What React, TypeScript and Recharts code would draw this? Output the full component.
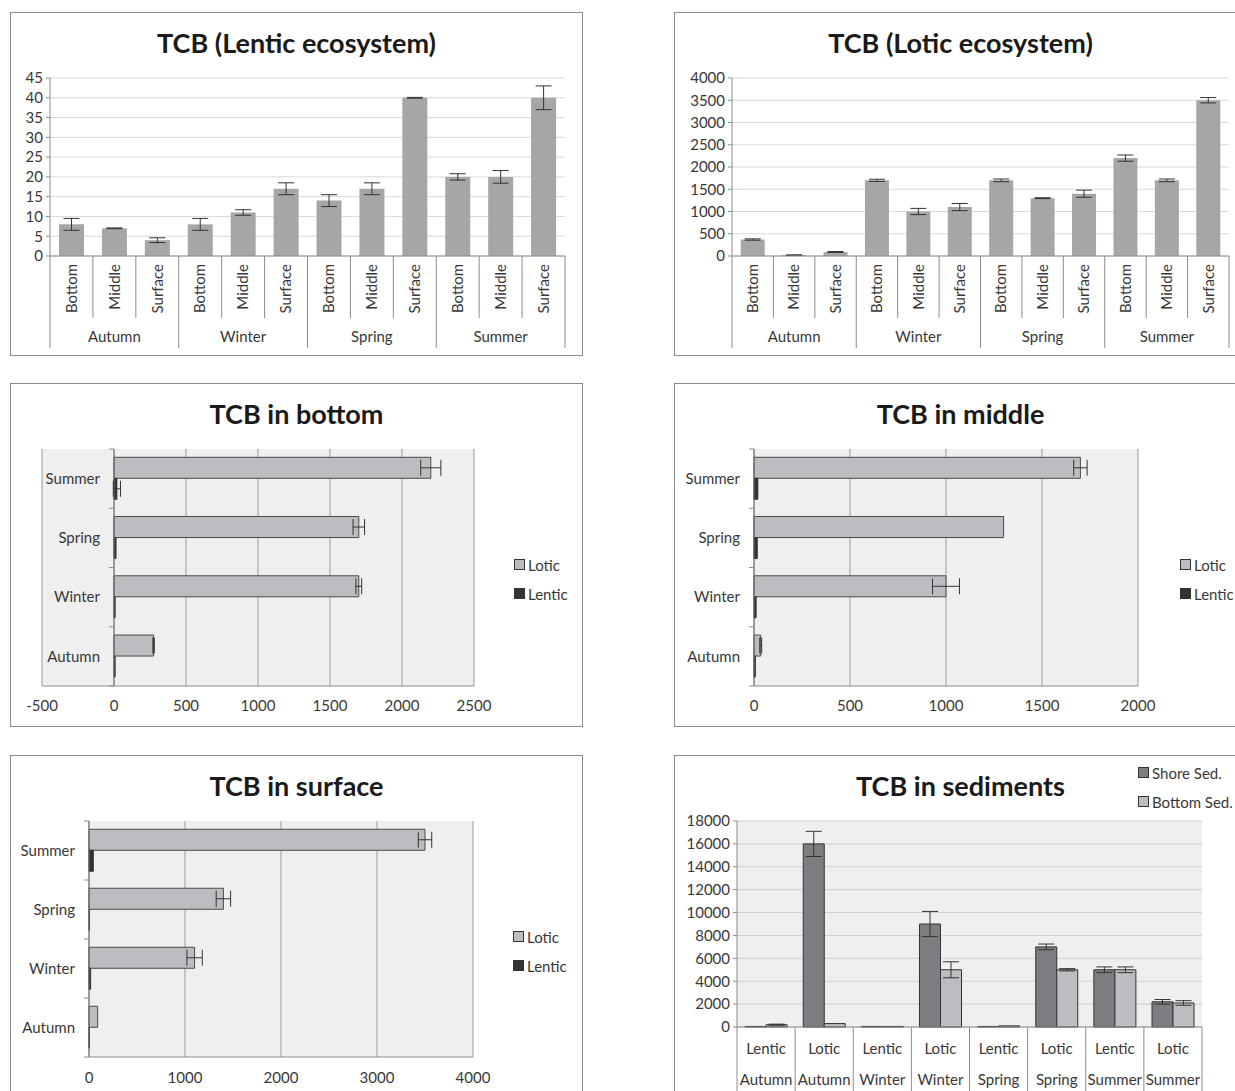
import React from "react";
import {
  BarChart,
  Bar,
  XAxis,
  YAxis,
  CartesianGrid,
  ErrorBar,
  ReferenceLine,
} from "recharts";

// seasons / depth layers used by the two top charts
const seasons = ["Autumn", "Winter", "Spring", "Summer"];
const layers = ["Bottom", "Middle", "Surface"];

const lenticValues = [8, 7, 4, 8, 11, 17, 14, 17, 40, 20, 20, 40];
const lenticErrors = [1.5, 0.1, 0.6, 1.5, 0.7, 1.5, 1.5, 1.5, 0.1, 0.8, 1.6, 3];
const lenticTicks = [0, 5, 10, 15, 20, 25, 30, 35, 40, 45];

const loticValues = [370, 20, 90, 1700, 1000, 1100, 1700, 1300, 1400, 2200, 1700, 3500];
const loticErrors = [15, 5, 10, 25, 70, 80, 30, 10, 80, 70, 30, 60];
const loticTicks = [0, 500, 1000, 1500, 2000, 2500, 3000, 3500, 4000];

// horizontal charts, top to bottom
const barSeasons = ["Summer", "Spring", "Winter", "Autumn"];

const bottomLotic = [2200, 1700, 1700, 275];
const bottomLoticErr = [70, 40, 20, 5];
const bottomLentic = [20, 14, 8, 8];
const bottomLenticErr = [25, 0, 0, 0];
const bottomTicks = [-500, 0, 500, 1000, 1500, 2000, 2500];

const middleLotic = [1700, 1300, 1000, 35];
const middleLoticErr = [35, 0, 70, 5];
const middleLentic = [20, 17, 11, 7];
const middleTicks = [0, 500, 1000, 1500, 2000];

const surfaceLotic = [3500, 1400, 1100, 90];
const surfaceLoticErr = [70, 75, 80, 0];
const surfaceLentic = [45, 5, 17, 4];
const surfaceTicks = [0, 1000, 2000, 3000, 4000];

// sediments
const sedSystems = ["Lentic", "Lotic", "Lentic", "Lotic", "Lentic", "Lotic", "Lentic", "Lotic"];
const sedSeasons = ["Autumn", "Autumn", "Winter", "Winter", "Spring", "Spring", "Summer", "Summer"];
const shoreSed = [50, 16000, 50, 9000, 50, 7000, 5000, 2200];
const shoreSedErr = [0, 1100, 0, 1100, 0, 250, 250, 200];
const bottomSed = [200, 300, 50, 5000, 100, 5000, 5000, 2100];
const bottomSedErr = [50, 0, 0, 700, 0, 100, 250, 200];
const sedTicks = [0, 2000, 4000, 6000, 8000, 10000, 12000, 14000, 16000, 18000];

const textColor = "#383838";
const axisColor = "#8c8c8c";
const gridColor = "#d9d9d9";
const plainBar = "#a6a6a8";
const lightBar = "#bdbdc1";
const darkBar = "#333333";
const shoreColor = "#7e7e82";
const errColor = "#333333";
const fs = 15;

const W = 571;
const H = 342;

const layerData = (values: number[], errors: number[]) =>
  values.map((v, i) => ({
    layer: layers[i % 3],
    key: `${seasons[Math.floor(i / 3)]}-${layers[i % 3]}`,
    value: v,
    err: errors[i],
  }));

const hData = (lotic: number[], loticErr: number[], lentic: number[], lenticErr?: number[]) =>
  barSeasons.map((s, i) => ({
    season: s,
    lotic: lotic[i],
    loticErr: loticErr[i],
    lentic: lentic[i],
    lenticErr: lenticErr ? lenticErr[i] : 0,
  }));

const sedData = sedSystems.map((s, i) => ({
  key: `${s} ${sedSeasons[i]}`,
  shore: shoreSed[i],
  shoreErr: shoreSedErr[i],
  bottom: bottomSed[i],
  bottomErr: bottomSedErr[i],
}));

const Panel = ({ left, top, title, children }: any) => (
  <div
    style={{
      position: "absolute",
      left,
      top,
      width: 573,
      height: 344,
      border: `1px solid ${axisColor}`,
      boxSizing: "border-box",
      background: "#fff",
    }}
  >
    <div
      style={{
        position: "absolute",
        left: 0,
        top: 14,
        width: W,
        textAlign: "center",
        fontWeight: 700,
        fontSize: 27,
        lineHeight: "32px",
        color: "#1a1a1a",
      }}
    >
      {title}
    </div>
    <div style={{ position: "absolute", left: 0, top: 0 }}>{children}</div>
  </div>
);

const LegendBox = ({ left, top, items }: any) => (
  <div style={{ position: "absolute", left, top }}>
    {items.map((it: any) => (
      <div
        key={it.name}
        style={{ display: "flex", alignItems: "center", height: 29, fontSize: fs, color: textColor, whiteSpace: "nowrap" }}
      >
        <span
          style={{
            display: "inline-block",
            width: 9,
            height: 9,
            background: it.color,
            border: `1px solid ${it.border}`,
            marginRight: 3,
          }}
        />
        {it.name}
      </div>
    ))}
  </div>
);

const makeLayerTick = (band: number) => (props: any) => {
  const { x, y, payload, index } = props;
  const full = index % 3 === 0;
  return (
    <g>
      <text
        transform={`rotate(-90, ${x}, ${y + 8})`}
        x={x}
        y={y + 8}
        dy="0.35em"
        textAnchor="end"
        fontSize={fs}
        fill={textColor}
      >
        {payload.value}
      </text>
      <line x1={x - band / 2} x2={x - band / 2} y1={y} y2={y + (full ? 92 : 62)} stroke={axisColor} />
      {index === 11 && <line x1={x + band / 2} x2={x + band / 2} y1={y} y2={y + 92} stroke={axisColor} />}
      {index % 3 === 1 && (
        <text x={x} y={y + 81} dy="0.35em" textAnchor="middle" fontSize={fs} fill={textColor}>
          {seasons[Math.floor(index / 3)]}
        </text>
      )}
    </g>
  );
};

const makeSeasonTick = (zeroOffset: number, band: number) => (props: any) => {
  const { x, y, payload, index } = props;
  const ax = x + zeroOffset;
  return (
    <g>
      <text x={ax - 14} y={y} dy="0.35em" textAnchor="end" fontSize={fs} fill={textColor}>
        {payload.value}
      </text>
      <line x1={ax - 5} x2={ax} y1={y - band / 2} y2={y - band / 2} stroke={axisColor} />
      {index === 3 && <line x1={ax - 5} x2={ax} y1={y + band / 2} y2={y + band / 2} stroke={axisColor} />}
    </g>
  );
};

const makeSedTick = (band: number) => (props: any) => {
  const { x, y, index } = props;
  return (
    <g>
      <text x={x} y={y + 22} dy="0.35em" textAnchor="middle" fontSize={fs} fill={textColor}>
        {sedSystems[index]}
      </text>
      <text x={x} y={y + 53} dy="0.35em" textAnchor="middle" fontSize={fs} fill={textColor}>
        {sedSeasons[index]}
      </text>
      <line x1={x - band / 2} x2={x - band / 2} y1={y} y2={y + 72} stroke={axisColor} />
      {index === 7 && <line x1={x + band / 2} x2={x + band / 2} y1={y} y2={y + 72} stroke={axisColor} />}
    </g>
  );
};

const LayerChart = ({ values, errors, ticks, yWidth, marginLeft }: any) => {
  const margin = { top: 65, right: 17, bottom: 6, left: marginLeft };
  const band = (W - margin.left - yWidth - margin.right) / 12;
  return (
    <BarChart width={W} height={H} data={layerData(values, errors)} margin={margin} barCategoryGap="21%">
      <CartesianGrid vertical={false} stroke={gridColor} />
      <XAxis
        dataKey="key"
        interval={0}
        height={93}
        tickSize={0}
        tickMargin={0}
        tickLine={false}
        axisLine={{ stroke: axisColor }}
        tick={(p: any) => makeLayerTick(band)({ ...p, payload: { value: layers[p.index % 3] } })}
      />
      <YAxis
        width={yWidth}
        domain={[ticks[0], ticks[ticks.length - 1]]}
        ticks={ticks}
        interval={0}
        tickSize={4}
        tickMargin={3}
        axisLine={{ stroke: axisColor }}
        tickLine={{ stroke: axisColor }}
        tick={{ fill: textColor, fontSize: fs }}
      />
      <Bar dataKey="value" fill={plainBar} isAnimationActive={false}>
        <ErrorBar dataKey="err" width={8} stroke={errColor} strokeWidth={1} isAnimationActive={false} />
      </Bar>
    </BarChart>
  );
};

const HChart = ({ data, ticks, marginLeft, marginRight, bottomH, tickGap }: any) => {
  const margin = { top: 65, right: marginRight, bottom: 10, left: marginLeft };
  const plotW = W - margin.left - 1 - margin.right;
  const min = ticks[0];
  const max = ticks[ticks.length - 1];
  const zeroOffset = ((0 - min) / (max - min)) * plotW;
  const band = (H - margin.top - margin.bottom - bottomH) / 4;
  return (
    <BarChart
      width={W}
      height={H}
      data={data}
      layout="vertical"
      margin={margin}
      barCategoryGap="14%"
      barGap={0}
    >
      <CartesianGrid horizontal={false} stroke="#9a9a9a" fill="#efefef" />
      <XAxis
        type="number"
        domain={[min, max]}
        ticks={ticks}
        interval={0}
        height={bottomH}
        tickSize={0}
        tickMargin={tickGap}
        tickLine={false}
        axisLine={{ stroke: axisColor }}
        tick={{ fill: textColor, fontSize: fs }}
      />
      <YAxis
        type="category"
        dataKey="season"
        width={1}
        interval={0}
        tickSize={0}
        tickMargin={0}
        tickLine={false}
        axisLine={false}
        tick={makeSeasonTick(zeroOffset, band)}
      />
      <ReferenceLine x={0} stroke="#6f6f6f" />
      <Bar dataKey="lotic" fill={lightBar} stroke="#4a4a4a" strokeWidth={1} isAnimationActive={false}>
        <ErrorBar dataKey="loticErr" direction="x" width={8} stroke={errColor} strokeWidth={1} isAnimationActive={false} />
      </Bar>
      <Bar dataKey="lentic" fill={darkBar} stroke={darkBar} strokeWidth={1} isAnimationActive={false}>
        <ErrorBar dataKey="lenticErr" direction="x" width={8} stroke={errColor} strokeWidth={1} isAnimationActive={false} />
      </Bar>
    </BarChart>
  );
};

const SedChart = () => {
  const margin = { top: 65, right: 44, bottom: 5, left: 4 };
  const yWidth = 58;
  const band = (W - margin.left - yWidth - margin.right) / 8;
  return (
    <BarChart width={W} height={H} data={sedData} margin={margin} barCategoryGap="14%" barGap={0}>
      <CartesianGrid vertical={false} stroke="#cfcfcf" fill="#efefef" />
      <XAxis
        dataKey="key"
        interval={0}
        height={66}
        tickSize={0}
        tickMargin={0}
        tickLine={false}
        axisLine={{ stroke: axisColor }}
        tick={makeSedTick(band)}
      />
      <YAxis
        width={yWidth}
        domain={[0, 18000]}
        ticks={sedTicks}
        interval={0}
        tickSize={4}
        tickMargin={3}
        axisLine={{ stroke: axisColor }}
        tickLine={{ stroke: axisColor }}
        tick={{ fill: textColor, fontSize: fs }}
      />
      <Bar dataKey="shore" fill={shoreColor} stroke="#333" strokeWidth={1} isAnimationActive={false}>
        <ErrorBar dataKey="shoreErr" width={8} stroke={errColor} strokeWidth={1} isAnimationActive={false} />
      </Bar>
      <Bar dataKey="bottom" fill={lightBar} stroke="#333" strokeWidth={1} isAnimationActive={false}>
        <ErrorBar dataKey="bottomErr" width={8} stroke={errColor} strokeWidth={1} isAnimationActive={false} />
      </Bar>
    </BarChart>
  );
};

const hLegend = [
  { name: "Lotic", color: lightBar, border: "#333" },
  { name: "Lentic", color: darkBar, border: darkBar },
];

const sedLegend = [
  { name: "Shore Sed.", color: shoreColor, border: "#333" },
  { name: "Bottom Sed.", color: lightBar, border: "#333" },
];

export default function App() {
  return (
    <div
      style={{
        position: "absolute",
        left: 0,
        top: 0,
        width: 1235,
        height: 1091,
        overflow: "hidden",
        background: "#fff",
        fontFamily: "Lato, 'Liberation Sans', sans-serif",
      }}
    >
      <Panel left={10} top={12} title="TCB (Lentic ecosystem)">
        <LayerChart values={lenticValues} errors={lenticErrors} ticks={lenticTicks} yWidth={36} marginLeft={3} />
      </Panel>
      <Panel left={674} top={12} title="TCB (Lotic ecosystem)">
        <LayerChart values={loticValues} errors={loticErrors} ticks={loticTicks} yWidth={52} marginLeft={5} />
      </Panel>

      <Panel left={10} top={383} title="TCB in bottom">
        <HChart
          data={hData(bottomLotic, bottomLoticErr, bottomLentic, bottomLenticErr)}
          ticks={bottomTicks}
          marginLeft={30}
          marginRight={108}
          bottomH={30}
          tickGap={14}
        />
        <LegendBox left={503} top={166} items={hLegend} />
      </Panel>
      <Panel left={674} top={383} title="TCB in middle">
        <HChart
          data={hData(middleLotic, middleLoticErr, middleLentic)}
          ticks={middleTicks}
          marginLeft={78}
          marginRight={108}
          bottomH={30}
          tickGap={14}
        />
        <LegendBox left={505} top={166} items={hLegend} />
      </Panel>

      <Panel left={10} top={755} title="TCB in surface">
        <HChart
          data={hData(surfaceLotic, surfaceLoticErr, surfaceLentic)}
          ticks={surfaceTicks}
          marginLeft={77}
          marginRight={109}
          bottomH={31}
          tickGap={15}
        />
        <LegendBox left={502} top={166} items={hLegend} />
      </Panel>
      <Panel left={674} top={755} title="TCB in sediments">
        <SedChart />
        <LegendBox left={463} top={2} items={sedLegend} />
      </Panel>
    </div>
  );
}
